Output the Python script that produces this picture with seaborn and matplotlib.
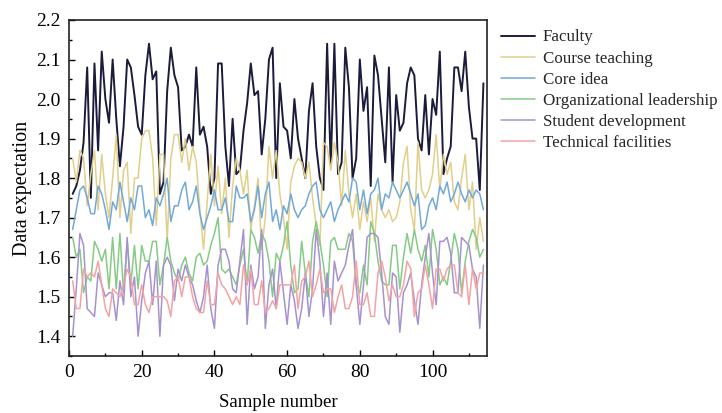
import pandas as pd
import matplotlib
matplotlib.use("Agg")
import matplotlib.pyplot as plt
from matplotlib.ticker import MultipleLocator
import seaborn as sns

series_names = ["Faculty", "Course teaching", "Core idea", "Organizational leadership",
                "Student development", "Technical facilities"]
series_colors = ["#1b1b3d", "#e2cf8a", "#72a9d9", "#85cb85", "#a792cf", "#f4a3a3"]

faculty = [
    1.76, 1.78, 1.82, 1.89, 2.08, 1.75, 2.09, 1.87, 2.12, 2.00,
    1.94, 2.10, 1.95, 1.83, 1.93, 2.10, 2.08, 2.01, 1.93, 1.91,
    2.06, 2.14, 2.05, 2.07, 1.76, 1.79, 2.02, 2.13, 2.06, 2.03,
    1.87, 1.88, 1.91, 1.88, 2.08, 1.91, 1.93, 1.88, 1.76, 1.80,
    2.09, 2.09, 1.88, 1.78, 1.95, 1.81, 1.82, 1.92, 1.99, 2.09,
    2.01, 2.02, 1.86, 1.95, 2.10, 2.13, 1.80, 2.04, 1.93, 1.92,
    1.85, 2.00, 1.90, 1.85, 1.80, 1.97, 2.04, 1.88, 1.80, 1.77,
    2.14, 1.83, 2.14, 1.81, 1.84, 2.13, 2.03, 1.80, 1.85, 2.10,
    1.97, 2.03, 1.78, 2.11, 2.06, 1.95, 1.84, 2.08, 1.79, 2.01,
    1.92, 1.94, 2.04, 2.08, 2.06, 1.90, 1.87, 2.01, 1.86, 2.00,
    1.96, 2.12, 1.81, 1.85, 1.88, 2.08, 2.08, 2.02, 2.12, 1.98,
    1.90, 1.90, 1.77, 2.04,
]

course_teaching = [
    1.85, 1.79, 1.87, 1.85, 1.73, 1.81, 1.87, 1.72, 1.86, 1.76,
    1.70, 1.80, 1.91, 1.70, 1.82, 1.84, 1.66, 1.80, 1.80, 1.90,
    1.92, 1.92, 1.85, 1.68, 1.86, 1.86, 1.64, 1.85, 1.91, 1.91,
    1.84, 1.90, 1.82, 1.88, 1.84, 1.72, 1.62, 1.74, 1.86, 1.73,
    1.83, 1.71, 1.80, 1.65, 1.78, 1.85, 1.82, 1.76, 1.82, 1.67,
    1.73, 1.80, 1.62, 1.70, 1.88, 1.80, 1.87, 1.76, 1.70, 1.62,
    1.79, 1.83, 1.85, 1.84, 1.80, 1.84, 1.75, 1.68, 1.63, 1.89,
    1.88, 1.82, 1.89, 1.84, 1.73, 1.87, 1.76, 1.70, 1.76, 1.67,
    1.74, 1.69, 1.75, 1.64, 1.76, 1.72, 1.70, 1.72, 1.69, 1.70,
    1.74, 1.84, 1.88, 1.72, 1.67, 1.89, 1.77, 1.75, 1.77, 1.81,
    1.91, 1.77, 1.86, 1.81, 1.84, 1.74, 1.72, 1.80, 1.86, 1.72,
    1.79, 1.62, 1.70, 1.64,
]

core_idea = [
    1.67, 1.72, 1.77, 1.78, 1.75, 1.71, 1.71, 1.78, 1.76, 1.72,
    1.67, 1.74, 1.72, 1.79, 1.74, 1.69, 1.75, 1.72, 1.78, 1.78,
    1.70, 1.72, 1.68, 1.75, 1.73, 1.76, 1.80, 1.69, 1.73, 1.73,
    1.77, 1.79, 1.72, 1.74, 1.78, 1.71, 1.67, 1.70, 1.73, 1.77,
    1.72, 1.72, 1.75, 1.69, 1.69, 1.78, 1.75, 1.75, 1.76, 1.69,
    1.72, 1.78, 1.70, 1.76, 1.79, 1.69, 1.72, 1.67, 1.73, 1.71,
    1.76, 1.72, 1.70, 1.72, 1.73, 1.76, 1.78, 1.79, 1.72, 1.70,
    1.72, 1.74, 1.69, 1.72, 1.74, 1.76, 1.74, 1.80, 1.79, 1.72,
    1.77, 1.71, 1.76, 1.77, 1.80, 1.72, 1.76, 1.75, 1.79, 1.77,
    1.75, 1.77, 1.79, 1.76, 1.73, 1.76, 1.67, 1.68, 1.73, 1.75,
    1.72, 1.78, 1.76, 1.79, 1.74, 1.76, 1.79, 1.76, 1.74, 1.77,
    1.75, 1.77, 1.76, 1.72,
]

org_leadership = [
    1.65, 1.60, 1.62, 1.51, 1.55, 1.54, 1.64, 1.62, 1.59, 1.62,
    1.52, 1.65, 1.52, 1.66, 1.51, 1.64, 1.53, 1.63, 1.52, 1.63,
    1.59, 1.59, 1.64, 1.64, 1.53, 1.58, 1.65, 1.59, 1.56, 1.54,
    1.58, 1.60, 1.56, 1.54, 1.60, 1.61, 1.58, 1.59, 1.63, 1.66,
    1.70, 1.57, 1.56, 1.57, 1.55, 1.53, 1.58, 1.62, 1.53, 1.67,
    1.65, 1.61, 1.66, 1.64, 1.59, 1.50, 1.61, 1.59, 1.63, 1.69,
    1.58, 1.51, 1.52, 1.64, 1.56, 1.50, 1.64, 1.69, 1.64, 1.58,
    1.50, 1.64, 1.65, 1.62, 1.62, 1.62, 1.66, 1.64, 1.53, 1.51,
    1.58, 1.53, 1.69, 1.66, 1.59, 1.54, 1.53, 1.53, 1.63, 1.63,
    1.52, 1.60, 1.66, 1.61, 1.67, 1.62, 1.59, 1.63, 1.55, 1.67,
    1.62, 1.53, 1.55, 1.53, 1.59, 1.66, 1.62, 1.51, 1.59, 1.64,
    1.67, 1.65, 1.60, 1.62,
]

student_dev = [
    1.40, 1.52, 1.66, 1.63, 1.47, 1.46, 1.45, 1.56, 1.53, 1.50,
    1.51, 1.51, 1.44, 1.54, 1.48, 1.65, 1.50, 1.55, 1.40, 1.49,
    1.56, 1.59, 1.48, 1.59, 1.40, 1.58, 1.60, 1.58, 1.49, 1.57,
    1.54, 1.58, 1.55, 1.53, 1.49, 1.46, 1.50, 1.58, 1.47, 1.42,
    1.58, 1.62, 1.62, 1.59, 1.52, 1.51, 1.59, 1.67, 1.43, 1.58,
    1.52, 1.55, 1.67, 1.42, 1.53, 1.57, 1.47, 1.59, 1.51, 1.43,
    1.53, 1.49, 1.42, 1.47, 1.56, 1.45, 1.52, 1.67, 1.59, 1.45,
    1.56, 1.43, 1.59, 1.54, 1.56, 1.58, 1.63, 1.67, 1.53, 1.43,
    1.53, 1.65, 1.66, 1.66, 1.65, 1.56, 1.45, 1.43, 1.56, 1.55,
    1.41, 1.51, 1.53, 1.56, 1.49, 1.43, 1.53, 1.60, 1.66, 1.56,
    1.48, 1.64, 1.64, 1.65, 1.61, 1.51, 1.51, 1.65, 1.64, 1.63,
    1.57, 1.55, 1.42, 1.58,
]

tech_facilities = [
    1.54, 1.47, 1.47, 1.57, 1.55, 1.56, 1.55, 1.59, 1.53, 1.47,
    1.45, 1.52, 1.51, 1.50, 1.53, 1.57, 1.55, 1.48, 1.48, 1.53,
    1.48, 1.46, 1.50, 1.50, 1.50, 1.50, 1.49, 1.45, 1.54, 1.55,
    1.50, 1.55, 1.55, 1.50, 1.47, 1.46, 1.46, 1.54, 1.48, 1.48,
    1.56, 1.53, 1.52, 1.50, 1.48, 1.50, 1.48, 1.58, 1.53, 1.57,
    1.48, 1.48, 1.54, 1.46, 1.47, 1.49, 1.47, 1.53, 1.53, 1.53,
    1.53, 1.58, 1.47, 1.54, 1.55, 1.59, 1.50, 1.53, 1.57, 1.51,
    1.52, 1.52, 1.46, 1.50, 1.53, 1.47, 1.47, 1.50, 1.59, 1.48,
    1.48, 1.51, 1.45, 1.45, 1.56, 1.59, 1.55, 1.49, 1.53, 1.50,
    1.50, 1.53, 1.59, 1.57, 1.45, 1.51, 1.52, 1.58, 1.53, 1.47,
    1.57, 1.57, 1.54, 1.57, 1.58, 1.58, 1.51, 1.50, 1.58, 1.48,
    1.57, 1.52, 1.56, 1.56,
]

all_values = [faculty, course_teaching, core_idea, org_leadership, student_dev, tech_facilities]

# long-form table for seaborn
frames = []
for name, vals in zip(series_names, all_values):
    frames.append(pd.DataFrame({"sample": range(1, len(vals) + 1), "value": vals, "series": name}))
df = pd.concat(frames, ignore_index=True)

sns.set_theme(style="ticks")
plt.rcParams["font.family"] = ["Liberation Serif", "DejaVu Serif"]

fig = plt.figure(figsize=(7.22, 4.13), dpi=100)
ax = fig.add_axes([0.0956, 0.138, 0.579, 0.8136])

sns.lineplot(data=df, x="sample", y="value", hue="series", hue_order=series_names,
             palette=series_colors, linewidth=1.1, ax=ax, legend=False)
# faculty line a bit heavier
ax.lines[0].set_linewidth(1.4)

ax.set_xlim(0, 115)
ax.set_ylim(1.35, 2.2)
ax.xaxis.set_major_locator(MultipleLocator(20))
ax.xaxis.set_minor_locator(MultipleLocator(10))
ax.yaxis.set_major_locator(MultipleLocator(0.1))
ax.yaxis.set_minor_locator(MultipleLocator(0.05))
ax.yaxis.set_major_formatter(matplotlib.ticker.FormatStrFormatter("%.1f"))
ax.tick_params(which="both", direction="in", top=False, right=False, colors="black",
               labelsize=14, pad=6)
ax.tick_params(which="major", length=4, width=1)
ax.tick_params(which="minor", length=2.5, width=1)

for sp in ax.spines.values():
    sp.set_visible(True)
    sp.set_color("#222222")
    sp.set_linewidth(1.2)

ax.set_xlabel("Sample number", fontsize=13.5, labelpad=9, color="black")
ax.set_ylabel("Data expectation", fontsize=14.5, labelpad=3, color="black")

handles = ax.lines[:len(series_names)]
fig.legend(handles, series_names, loc="upper left", bbox_to_anchor=(0.684, 0.945),
           frameon=False, fontsize=12.2, handlelength=2.0, handletextpad=0.5,
           labelspacing=0.3, borderaxespad=0)

fig.savefig("out.png", dpi=100)
